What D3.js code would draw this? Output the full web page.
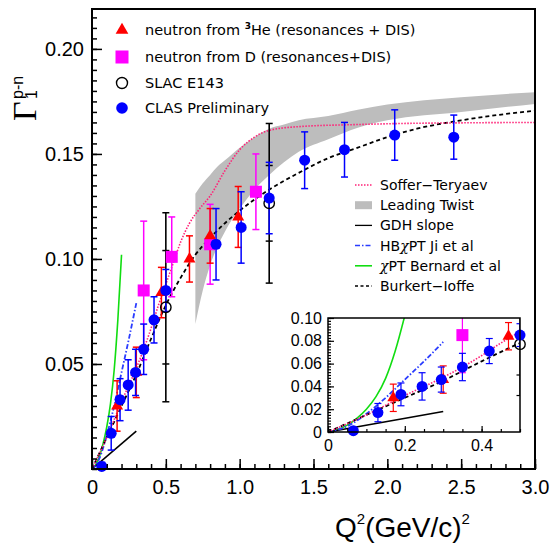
<!DOCTYPE html>
<html><head><meta charset="utf-8">
<script src="https://cdn.jsdelivr.net/npm/d3@7"></script>
<style>body{margin:0;background:#fff}svg{display:block}</style>
</head><body><svg id="c" width="550" height="544"></svg>
<script>
// ---------------- data ----------------
const clasQ2  = [0.066,0.13,0.19,0.245,0.295,0.35,0.42,0.50,0.84,1.01,1.20,1.44,1.71,2.05,2.45];
const clasG   = [0.0012,0.017,0.033,0.040,0.046,0.057,0.071,0.085,0.107,0.115,0.129,0.147,0.152,0.159,0.158];
const clasErr = [0.002,0.008,0.010,0.012,0.011,0.012,0.011,0.010,0.017,0.017,0.017,0.0135,0.013,0.012,0.0105];
const he3Q2  = [0.17,0.30,0.47,0.66,0.80,0.99];
const he3G   = [0.030,0.046,0.084,0.100,0.111,0.120];
const he3Err = [0.012,0.012,0.012,0.011,0.013,0.0145];
const dQ2  = [0.35,0.54,0.80,1.11];
const dG   = [0.085,0.101,0.107,0.132];
const dErr = [0.033,0.019,0.019,0.018];
const slacQ2 = [0.50,1.20];
const slacG  = [0.077,0.1265];
const slacErrTot  = [0.045,0.038];
const slacErrStat = [0.027,0.018];
// model curves
const stQ2 = [0,0.1,0.2,0.3,0.35,0.4,0.45,0.5,0.55,0.6,0.66,0.73,0.8,0.9,1.0,1.1,1.15,1.2,1.4,1.8,2.1,2.5,3.0];
const stG  = [0,0.015,0.032,0.048,0.057,0.067,0.078,0.088,0.098,0.108,0.117,0.124,0.130,0.142,0.152,0.158,0.160,0.1612,0.163,0.164,0.1645,0.1648,0.165];
const biQ2 = [0,0.1,0.2,0.3,0.4,0.5,0.6,0.7,0.8,0.9,1.0,1.2,1.4,1.6,1.8,2.0,2.2,2.5,2.8,3.0];
const biG  = [0,0.015,0.030,0.045,0.062,0.078,0.091,0.102,0.110,0.117,0.123,0.133,0.141,0.148,0.153,0.158,0.162,0.166,0.169,0.1706];
const ltQ2 = [0.70,0.75,0.80,0.85,0.90,0.95,1.0,1.1,1.2,1.3,1.4,1.6,1.8,2.0,2.5,3.0];
const ltLo = [0.069,0.085,0.097,0.106,0.113,0.119,0.124,0.133,0.140,0.146,0.151,0.157,0.1625,0.166,0.170,0.1738];
const ltHi = [0.131,0.136,0.140,0.144,0.147,0.150,0.153,0.158,0.162,0.164,0.166,0.168,0.171,0.1735,0.177,0.1794];
const gdhQ2 = [0,0.3];
const gdhG  = [0,0.018];
const jiQ2 = [0,0.05,0.1,0.15,0.2,0.25,0.3];
const jiG  = [0,0.005,0.016,0.030,0.046,0.062,0.079];
const bnQ2 = [0,0.025,0.05,0.075,0.1,0.125,0.15,0.175,0.2];
const bnG  = [0,0.002,0.006,0.012,0.020,0.031,0.047,0.071,0.102];
// ticks
const xTicks = [0,0.5,1.0,1.5,2.0,2.5,3.0];
const xTickLabels = ["0","0.5","1.0","1.5","2.0","2.5","3.0"];
const yTicks = [0.05,0.10,0.15,0.20];
const yTickLabels = ["0.05","0.10","0.15","0.20"];
const ixTicks = [0,0.2,0.4];
const ixTickLabels = ["0","0.2","0.4"];
const iyTicks = [0,0.02,0.04,0.06,0.08,0.10];
const iyTickLabels = ["0","0.02","0.04","0.06","0.08","0.10"];
const legend1 = ["neutron from ", "SLAC E143", "CLAS Preliminary"];
const legend2 = ["Soffer\u2212Teryaev","Leading Twist","GDH slope","HB","\u03c7PT Bernard et al","Burkert\u2212Ioffe"];

// ---------------- drawing ----------------
const svg = d3.select("#c");
const RED="#ff0000", MAG="#ff00ff", BLUE="#0000ff", ST="#ff2277", GREEN="#11dd11", JI="#2a3cff", GRAY="#bdbdbd";
const TICKFONT = "'Liberation Sans', Arial, sans-serif";
const LEGFONT = "'DejaVu Sans', sans-serif";

const x = d3.scaleLinear([0,3],[92,535]);
const y = d3.scaleLinear([0,0.219],[469,9]);
const xi = d3.scaleLinear([0,0.5],[328,520]);
const yi = d3.scaleLinear([0,0.1],[432,318]);

const defs = svg.append("defs");
defs.append("clipPath").attr("id","cm").append("rect").attr("x",92).attr("y",9).attr("width",443).attr("height",460);
defs.append("clipPath").attr("id","ci").append("rect").attr("x",328).attr("y",318).attr("width",192).attr("height",114);

const zip = (a,b)=>a.map((v,i)=>[v,b[i]]);

function drawPanel(g, xs, ys, inset){
  const cg = g.append("g").attr("clip-path", inset ? "url(#ci)" : "url(#cm)");
  // leading twist band (main only)
  if(!inset){
    const area = d3.area().x((d,i)=>xs(ltQ2[i])).y0((d,i)=>ys(ltLo[i])).y1((d,i)=>ys(ltHi[i])).curve(d3.curveMonotoneX);
    cg.append("path").attr("d", area(ltQ2)).attr("fill", GRAY);
  }
  const line = d3.line().x(d=>xs(d[0])).y(d=>ys(d[1])).curve(d3.curveMonotoneX);
  cg.append("path").attr("d", line(zip(bnQ2,bnG))).attr("fill","none").attr("stroke",GREEN).attr("stroke-width",1.6);
  cg.append("path").attr("d", line(zip(gdhQ2,gdhG))).attr("fill","none").attr("stroke","#000").attr("stroke-width",1.6);
  cg.append("path").attr("d", line(zip(jiQ2,jiG))).attr("fill","none").attr("stroke",JI).attr("stroke-width",1.8).attr("stroke-dasharray","5,2,1.5,2");
  cg.append("path").attr("d", line(zip(biQ2,biG))).attr("fill","none").attr("stroke","#000").attr("stroke-width",1.8).attr("stroke-dasharray","4,3");
  cg.append("path").attr("d", line(zip(stQ2,stG))).attr("fill","none").attr("stroke",ST).attr("stroke-width",1.6).attr("stroke-dasharray","1.5,1.5");

  const lim = inset ? 0.52 : 3.1;
  function errs(Q,G,E,color){
    Q.forEach((q,i)=>{
      if(q>lim) return;
      const X = xs(q), y1 = ys(G[i]+E[i]), y2 = ys(G[i]-E[i]);
      cg.append("line").attr("x1",X).attr("x2",X).attr("y1",y1).attr("y2",y2).attr("stroke",color).attr("stroke-width",1.5);
      [y1,y2].forEach(yy=>cg.append("line").attr("x1",X-3.5).attr("x2",X+3.5).attr("y1",yy).attr("y2",yy).attr("stroke",color).attr("stroke-width",1.5));
    });
  }
  // SLAC bars (total + stat ticks)
  slacQ2.forEach((q,i)=>{
    if(q>lim) return;
    const X = xs(q);
    const y1=ys(slacG[i]+slacErrTot[i]), y2=ys(slacG[i]-slacErrTot[i]);
    cg.append("line").attr("x1",X).attr("x2",X).attr("y1",y1).attr("y2",y2).attr("stroke","#000").attr("stroke-width",1.6);
    [y1,y2].forEach(yy=>cg.append("line").attr("x1",X-3.5).attr("x2",X+3.5).attr("y1",yy).attr("y2",yy).attr("stroke","#000").attr("stroke-width",1.5));
    [ys(slacG[i]+slacErrStat[i]), ys(slacG[i]-slacErrStat[i])].forEach(yy=>cg.append("line").attr("x1",X-3.5).attr("x2",X+3.5).attr("y1",yy).attr("y2",yy).attr("stroke","#000").attr("stroke-width",1.5));
  });
  errs(dQ2,dG,dErr,MAG);
  errs(he3Q2,he3G,he3Err,RED);
  errs(clasQ2,clasG,clasErr,BLUE);

  const mg = g.append("g");
  slacQ2.forEach((q,i)=>{ if(q>lim) return;
    mg.append("circle").attr("cx",xs(q)).attr("cy",ys(slacG[i])).attr("r",5.2).attr("fill","none").attr("stroke","#000").attr("stroke-width",1.4);});
  dQ2.forEach((q,i)=>{ if(q>lim) return;
    mg.append("rect").attr("x",xs(q)-6).attr("y",ys(dG[i])-6).attr("width",12).attr("height",12).attr("fill",MAG);});
  he3Q2.forEach((q,i)=>{ if(q>lim) return;
    mg.append("path").attr("d", d3.symbol(d3.symbolTriangle, 62)()).attr("transform",`translate(${xs(q)},${ys(he3G[i])})`).attr("fill",RED);});
  clasQ2.forEach((q,i)=>{ if(q>lim) return;
    mg.append("circle").attr("cx",xs(q)).attr("cy",ys(clasG[i])).attr("r",5.5).attr("fill",BLUE);});
}

// ---- main panel ----
const main = svg.append("g");
drawPanel(main, x, y, false);

function styleAxis(g, fs){
  g.select(".domain").remove();
  g.selectAll("line").attr("stroke","#000").attr("stroke-width",1.5);
  g.selectAll("text").attr("font-family",TICKFONT).attr("font-size",fs).attr("fill","#000");
}
const gx = main.append("g").attr("transform","translate(0,469)")
  .call(d3.axisBottom(x).tickValues(xTicks).tickSize(-10).tickPadding(11).tickFormat((d,i)=>xTickLabels[i]));
styleAxis(gx,20);
const gxm = main.append("g").attr("transform","translate(0,469)")
  .call(d3.axisBottom(x).tickValues(d3.range(0,3.001,0.1)).tickSize(-5).tickFormat(""));
styleAxis(gxm,20);
const gy = main.append("g").attr("transform","translate(92,0)")
  .call(d3.axisLeft(y).tickValues(yTicks).tickSize(-10).tickPadding(8).tickFormat((d,i)=>yTickLabels[i]));
styleAxis(gy,20);
const gym = main.append("g").attr("transform","translate(92,0)")
  .call(d3.axisLeft(y).tickValues(d3.range(0,0.2191,0.005)).tickSize(-5).tickFormat(""));
styleAxis(gym,20);
main.append("rect").attr("x",92).attr("y",9).attr("width",443).attr("height",460).attr("fill","none").attr("stroke","#000").attr("stroke-width",2);

// axis titles
svg.append("text").attr("x",335).attr("y",537).attr("font-family",TICKFONT).attr("font-size",28)
  .call(t=>{
    t.append("tspan").text("Q");
    t.append("tspan").attr("font-size",15).attr("dy",-13).text("2");
    t.append("tspan").attr("dy",13).text("(GeV/c)");
    t.append("tspan").attr("font-size",15).attr("dy",-13).text("2");
  });
const yl = svg.append("g").attr("transform","translate(36,121) rotate(-90)");
yl.append("text").attr("x",0).attr("y",0).attr("font-family","'Liberation Serif', 'Times New Roman', serif").attr("font-size",34).text("\u0393");
yl.append("text").attr("x",22).attr("y",1).attr("font-family",TICKFONT).attr("font-size",16).text("1");
yl.append("text").attr("x",22).attr("y",-13).attr("font-family",TICKFONT).attr("font-size",16).text("p-n");

// ---- legend top-left ----
const L1 = svg.append("g");
const ly = [30,57,83,108];
L1.append("path").attr("d", d3.symbol(d3.symbolTriangle, 70)()).attr("transform",`translate(122,${ly[0]})`).attr("fill",RED);
L1.append("rect").attr("x",115.5).attr("y",ly[1]-6.5).attr("width",13).attr("height",13).attr("fill",MAG);
L1.append("circle").attr("cx",122).attr("cy",ly[2]).attr("r",5.5).attr("fill","none").attr("stroke","#000").attr("stroke-width",1.4);
L1.append("circle").attr("cx",122).attr("cy",ly[3]).attr("r",5.8).attr("fill",BLUE);
const lt = (i)=>L1.append("text").attr("x",145).attr("y",ly[i]+5).attr("font-family",LEGFONT).attr("font-size",14.5).attr("fill","#000");
lt(0).call(t=>{ t.append("tspan").text(legend1[0]); t.append("tspan").attr("font-size",9).attr("dy",-6).attr("font-weight","bold").text("3"); t.append("tspan").attr("dy",6).text("He (resonances + DIS)"); });
lt(1).text("neutron from D (resonances+DIS)");
lt(2).text(legend1[1]);
lt(3).text(legend1[2]);

// ---- legend right ----
const L2 = svg.append("g");
const ry = d3.range(6).map(i=>185+i*20.2);
L2.append("line").attr("x1",355).attr("x2",372).attr("y1",ry[0]).attr("y2",ry[0]).attr("stroke",ST).attr("stroke-width",1.5).attr("stroke-dasharray","1.5,1.5");
L2.append("rect").attr("x",355).attr("y",ry[1]-4).attr("width",17).attr("height",8).attr("fill",GRAY);
L2.append("line").attr("x1",355).attr("x2",372).attr("y1",ry[2]).attr("y2",ry[2]).attr("stroke","#000").attr("stroke-width",1.3);
L2.append("line").attr("x1",355).attr("x2",372).attr("y1",ry[3]).attr("y2",ry[3]).attr("stroke",JI).attr("stroke-width",1.5).attr("stroke-dasharray","5,2,1.5,2");
L2.append("line").attr("x1",355).attr("x2",372).attr("y1",ry[4]).attr("y2",ry[4]).attr("stroke",GREEN).attr("stroke-width",1.6);
L2.append("line").attr("x1",355).attr("x2",372).attr("y1",ry[5]).attr("y2",ry[5]).attr("stroke","#000").attr("stroke-width",1.5).attr("stroke-dasharray","3,2.5");
const rt = (i)=>L2.append("text").attr("x",380).attr("y",ry[i]+5).attr("font-family",LEGFONT).attr("font-size",14).attr("fill","#000");
rt(0).text(legend2[0]);
rt(1).text(legend2[1]);
rt(2).text(legend2[2]);
rt(3).call(t=>{ t.append("tspan").text("HB"); t.append("tspan").attr("font-family","'DejaVu Serif', serif").attr("font-style","italic").text("\u03c7"); t.append("tspan").text("PT Ji et al"); });
rt(4).call(t=>{ t.append("tspan").attr("font-family","'DejaVu Serif', serif").attr("font-style","italic").text("\u03c7"); t.append("tspan").text("PT Bernard et al"); });
rt(5).text(legend2[5]);

// ---- inset ----
const ins = svg.append("g");
ins.append("rect").attr("x",328).attr("y",318).attr("width",192).attr("height",114).attr("fill","#fff");
drawPanel(ins, xi, yi, true);
const ix = ins.append("g").attr("transform","translate(0,432)")
  .call(d3.axisBottom(xi).tickValues(ixTicks).tickSize(-6).tickPadding(8).tickFormat((d,i)=>ixTickLabels[i]));
styleAxis(ix,16);
const ixm = ins.append("g").attr("transform","translate(0,432)")
  .call(d3.axisBottom(xi).tickValues(d3.range(0,0.5001,0.05)).tickSize(-3).tickFormat(""));
styleAxis(ixm,16);
const iy = ins.append("g").attr("transform","translate(328,0)")
  .call(d3.axisLeft(yi).tickValues(iyTicks).tickSize(-6).tickPadding(6).tickFormat((d,i)=>iyTickLabels[i]));
styleAxis(iy,16);
const iym = ins.append("g").attr("transform","translate(328,0)")
  .call(d3.axisLeft(yi).tickValues(d3.range(0,0.1001,0.0025)).tickSize(-3).tickFormat(""));
styleAxis(iym,16);
ins.selectAll("line").attr("stroke-width",1.2);
ins.append("rect").attr("x",328).attr("y",318).attr("width",192).attr("height",114).attr("fill","none").attr("stroke","#000").attr("stroke-width",1.5);
</script></body></html>
